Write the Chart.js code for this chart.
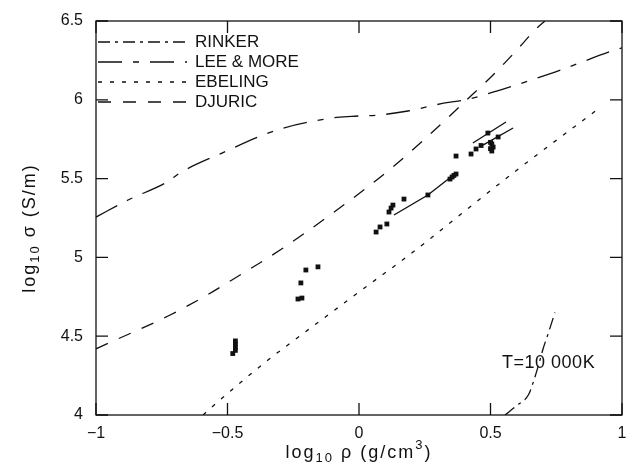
<!DOCTYPE html>
<html><head><meta charset="utf-8">
<script src="https://cdn.jsdelivr.net/npm/chart.js@4.4.1/dist/chart.umd.min.js"></script>
<style>html,body{margin:0;padding:0;background:#fff;}#wrap{width:627px;height:468px;position:relative;}</style>
</head><body><div id="wrap"><canvas id="c"></canvas></div>
<script>
// ---- data ----
const rinkerX  = [0.555, 0.60, 0.645, 0.665, 0.685, 0.70, 0.72, 0.745];
const rinkerY  = [4.0, 4.06, 4.13, 4.22, 4.33, 4.42, 4.52, 4.65];
const leeMoreX = [-1, -0.878, -0.73, -0.681, -0.521, -0.312, -0.099, -0.027, 0.08, 0.186, 0.327, 0.403, 0.536, 0.745, 0.962, 1];
const leeMoreY = [5.256, 5.364, 5.478, 5.536, 5.662, 5.808, 5.885, 5.895, 5.904, 5.929, 5.98, 5.999, 6.062, 6.176, 6.31, 6.33];
const ebelingX = [-0.593, -0.529, -0.346, -0.281, 0.072, 0.156, 0.601, 0.9];
const ebelingY = [4.0, 4.095, 4.349, 4.431, 4.869, 4.971, 5.555, 5.93];
const djuricX  = [-1, -0.951, -0.726, -0.578, -0.483, -0.300, -0.110, 0.129, 0.357, 0.403, 0.498, 0.593, 0.677, 0.707];
const djuricY  = [4.42, 4.457, 4.628, 4.761, 4.857, 5.047, 5.269, 5.574, 5.916, 5.99, 6.138, 6.303, 6.456, 6.5];
const expX = [-0.48, -0.47, -0.47, -0.47, -0.47, -0.232, -0.217, -0.221, -0.202, -0.156,
              0.065, 0.080, 0.106, 0.114, 0.122, 0.129, 0.171, 0.262, 0.346, 0.354, 0.361, 0.369,
              0.369, 0.426, 0.445, 0.464, 0.490, 0.50, 0.505, 0.51, 0.50, 0.505, 0.529];
const expY = [4.39, 4.41, 4.43, 4.45, 4.47, 4.736, 4.742, 4.838, 4.92, 4.94,
              5.161, 5.193, 5.212, 5.288, 5.313, 5.332, 5.37, 5.396, 5.497, 5.51, 5.52, 5.529,
              5.643, 5.656, 5.688, 5.71, 5.789, 5.73, 5.72, 5.70, 5.69, 5.675, 5.764];
const fit1X = [0.133, 0.262, 0.369], fit1Y = [5.269, 5.396, 5.536];
const fit2X = [0.433, 0.559],        fit2Y = [5.726, 5.859];
const fit3X = [0.471, 0.586],        fit3Y = [5.713, 5.821];
const xTicks = [-1, -0.5, 0, 0.5, 1];
const yTicks = [4, 4.5, 5, 5.5, 6, 6.5];
const legendNames = ['RINKER', 'LEE & MORE', 'EBELING', 'DJURIC'];
const noteText = 'T=10 000K';
const notePos = [0.544, 4.33];
// axis titles: [text, role] with role n = normal, sub = subscript, sup = superscript
const xTitleParts = [['log', 'n'], ['10', 'sub'], [' \u03c1 (g/cm', 'n'], ['3', 'sup'], [')', 'n']];
const yTitleParts = [['log', 'n'], ['10', 'sub'], [' \u03c3 (S/m)', 'n']];

const pts = (xs, ys) => xs.map((v, i) => ({x: v, y: ys[i]}));
const FONT = '"Liberation Sans", Arial, sans-serif';
const INK = '#111';

function curve(label, xs, ys, dash) {
  return {label, data: pts(xs, ys), showLine: true, borderColor: INK, borderWidth: 1.3,
          borderDash: dash, pointRadius: 0, cubicInterpolationMode: 'monotone', fill: false};
}
const datasets = [
  curve(legendNames[0], rinkerX, rinkerY, [12, 5, 3, 5]),
  curve(legendNames[1], leeMoreX, leeMoreY, [24, 11, 6, 11]),
  curve(legendNames[2], ebelingX, ebelingY, [4, 8]),
  curve(legendNames[3], djuricX, djuricY, [13, 12]),
  {label: 'exp', data: pts(expX, expY), showLine: false, pointStyle: 'rect', pointRadius: 3.4,
   backgroundColor: INK, borderColor: INK, borderWidth: 0},
  {label: 'fit1', data: pts(fit1X, fit1Y), showLine: true, borderColor: INK, borderWidth: 1.4, pointRadius: 0},
  {label: 'fit2', data: pts(fit2X, fit2Y), showLine: true, borderColor: INK, borderWidth: 1.4, pointRadius: 0},
  {label: 'fit3', data: pts(fit3X, fit3Y), showLine: true, borderColor: INK, borderWidth: 1.4, pointRadius: 0}
];

function richText(ctx, parts, cx, cy, size, spacing) {
  const spec = {n: [size, 0], sub: [Math.round(size * 0.72), size * 0.32], sup: [Math.round(size * 0.72), -size * 0.4]};
  ctx.letterSpacing = spacing + 'px';
  let total = 0;
  const w = parts.map(([t, r]) => { ctx.font = spec[r][0] + 'px ' + FONT; const m = ctx.measureText(t).width; total += m; return m; });
  let x = cx - total / 2;
  ctx.textAlign = 'left'; ctx.textBaseline = 'middle';
  parts.forEach(([t, r], i) => { ctx.font = spec[r][0] + 'px ' + FONT; ctx.fillText(t, x, cy + spec[r][1]); x += w[i]; });
  ctx.letterSpacing = '0px';
}

const framePlugin = {
  id: 'framePlugin',
  afterDatasetsDraw(chart) {
    const {ctx, chartArea: a, scales: {x, y}} = chart;
    ctx.save();
    ctx.strokeStyle = INK; ctx.lineWidth = 1.3; ctx.setLineDash([]);
    ctx.strokeRect(a.left, a.top, a.right - a.left, a.bottom - a.top);
    const L = 12;
    ctx.beginPath();
    xTicks.forEach(v => { const p = x.getPixelForValue(v);
      ctx.moveTo(p, a.bottom); ctx.lineTo(p, a.bottom - L);
      ctx.moveTo(p, a.top); ctx.lineTo(p, a.top + L); });
    yTicks.forEach(v => { const p = y.getPixelForValue(v);
      ctx.moveTo(a.left, p); ctx.lineTo(a.left + L, p);
      ctx.moveTo(a.right, p); ctx.lineTo(a.right - L, p); });
    ctx.stroke();
    // legend
    ctx.fillStyle = INK; ctx.textBaseline = 'middle'; ctx.textAlign = 'left';
    ctx.font = '17px ' + FONT;
    legendNames.forEach((name, i) => {
      const ds = chart.data.datasets[i];
      const yy = a.top + 21 + i * 20;
      ctx.setLineDash(ds.borderDash); ctx.lineWidth = 1.3;
      ctx.beginPath(); ctx.moveTo(a.left + 2, yy); ctx.lineTo(a.left + 91, yy); ctx.stroke();
      ctx.fillText(name, a.left + 99, yy);
    });
    ctx.setLineDash([]);
    ctx.font = '18px ' + FONT; ctx.letterSpacing = '0.5px';
    ctx.fillText(noteText, x.getPixelForValue(notePos[0]), y.getPixelForValue(notePos[1]));
    ctx.letterSpacing = '0px';
    // axis titles
    richText(ctx, xTitleParts, (a.left + a.right) / 2, 453, 18, 2);
    ctx.save();
    ctx.translate(30, (a.top + a.bottom) / 2 + 10);
    ctx.rotate(-Math.PI / 2);
    richText(ctx, yTitleParts, 0, 0, 18, 2);
    ctx.restore();
    ctx.restore();
  }
};

const fmt = v => String(v).replace('-', '\u2212');
new Chart(document.getElementById('c'), {
  type: 'scatter',
  data: {datasets},
  plugins: [framePlugin],
  options: {
    responsive: true, maintainAspectRatio: false, animation: false,
    layout: {padding: {top: 21, right: 5, left: 0, bottom: 0}},
    plugins: {legend: {display: false}, tooltip: {enabled: false}},
    scales: {
      x: {type: 'linear', min: -1, max: 1,
          afterBuildTicks: s => { s.ticks = xTicks.map(v => ({value: v})); },
          afterFit: s => { s.height = 53; s.paddingLeft = 0; s.paddingRight = 0; },
          grid: {display: false, drawTicks: false}, border: {display: false},
          ticks: {color: INK, font: {family: FONT, size: 16}, padding: 9, maxRotation: 0, callback: fmt},
          title: {display: false}},
      y: {type: 'linear', min: 4, max: 6.5,
          afterBuildTicks: s => { s.ticks = yTicks.map(v => ({value: v})); },
          afterFit: s => { s.width = 96; s.paddingTop = 0; s.paddingBottom = 0; },
          grid: {display: false, drawTicks: false}, border: {display: false},
          ticks: {color: INK, font: {family: FONT, size: 16}, padding: 13, callback: fmt},
          title: {display: false}}
    }
  }
});
</script></body></html>
